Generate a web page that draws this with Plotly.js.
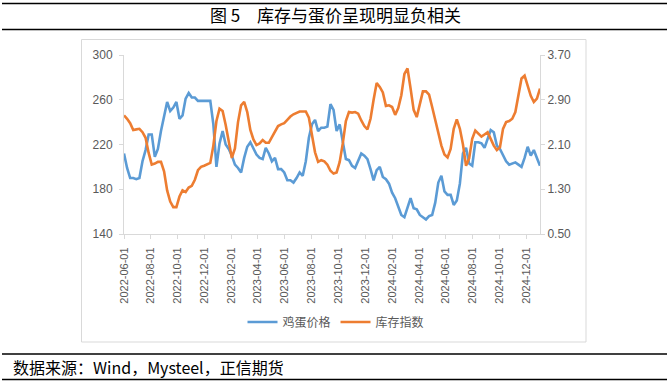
<!DOCTYPE html>
<html>
<head>
<meta charset="utf-8">
<script src="https://cdn.plot.ly/plotly-3.0.1.min.js"></script>
<style>
html,body{margin:0;padding:0;background:#fff;}
#chart{width:671px;height:384px;}
</style>
</head>
<body>
<div id="chart"></div>
<script>
// Weekly observation dates
const dates = [
"2022-06-01","2022-06-08","2022-06-15","2022-06-22","2022-06-29","2022-07-06","2022-07-13","2022-07-20","2022-07-27",
"2022-08-03","2022-08-10","2022-08-17","2022-08-24","2022-08-31","2022-09-07","2022-09-14","2022-09-21","2022-09-28",
"2022-10-05","2022-10-12","2022-10-19","2022-10-26","2022-11-02","2022-11-09","2022-11-16","2022-11-23","2022-11-30",
"2022-12-07","2022-12-14","2022-12-21","2022-12-28",
"2023-01-04","2023-01-11","2023-01-18","2023-01-25","2023-02-01","2023-02-08","2023-02-15","2023-02-22",
"2023-03-01","2023-03-08","2023-03-15","2023-03-22","2023-03-29","2023-04-05","2023-04-12","2023-04-19","2023-04-26",
"2023-05-03","2023-05-10","2023-05-17","2023-05-24","2023-05-31","2023-06-07","2023-06-14","2023-06-21","2023-06-28",
"2023-07-05","2023-07-12","2023-07-19","2023-07-26","2023-08-02","2023-08-09","2023-08-16","2023-08-23","2023-08-30",
"2023-09-06","2023-09-13","2023-09-20","2023-09-27","2023-10-04","2023-10-11","2023-10-18","2023-10-25",
"2023-11-01","2023-11-08","2023-11-15","2023-11-22","2023-11-29","2023-12-06","2023-12-13","2023-12-20","2023-12-27",
"2024-01-03","2024-01-10","2024-01-17","2024-01-24","2024-01-31","2024-02-07","2024-02-14","2024-02-21","2024-02-28",
"2024-03-06","2024-03-13","2024-03-20","2024-03-27","2024-04-03","2024-04-10","2024-04-17","2024-04-24",
"2024-05-01","2024-05-08","2024-05-15","2024-05-22","2024-05-29","2024-06-05","2024-06-12","2024-06-19","2024-06-26",
"2024-07-03","2024-07-10","2024-07-17","2024-07-24","2024-07-31","2024-08-07","2024-08-14","2024-08-21","2024-08-28",
"2024-09-04","2024-09-11","2024-09-18","2024-09-25","2024-10-02","2024-10-09","2024-10-16","2024-10-23","2024-10-30",
"2024-11-06","2024-11-13","2024-11-20","2024-11-27","2024-12-04","2024-12-11","2024-12-18","2024-12-25","2025-01-01"
];

// 鸡蛋价格 (left axis)
const eggPrice = [
212,199,190,190,189,190,205,215,229,229,209,216,232,245,258,250,253,258,243,246,
261,266,262,262,259,259,259,259,259,238,200,221,232,220,216,210,202,199,195,208,
218,222,217,211,208,207,217,212,205,208,198,198,195,188,188,186,190,195,192,205,
226,238,242,232,235,235,236,256,251,232,238,222,207,206,201,199,205,212,210,207,
198,188,197,200,191,189,185,177,172,164,157,155,163,172,163,162,157,155,153,156,
157,168,186,192,178,175,175,166,170,185,212,217,203,201,222,222,221,217,226,233,
231,219,216,210,205,202,203,204,202,200,208,218,210,215,208,201
];

// 库存指数 (right axis)
const stockIndex = [
2.62,2.56,2.48,2.36,2.37,2.38,2.32,2.22,1.95,1.74,1.76,1.79,1.79,1.62,1.28,1.08,0.98,0.98,1.17,1.28,
1.25,1.33,1.36,1.47,1.64,1.70,1.72,1.74,1.77,2.08,2.52,2.74,2.70,2.45,2.12,1.86,2.03,2.50,2.80,2.86,
2.68,2.36,2.19,2.09,2.12,2.18,2.13,2.13,2.23,2.32,2.43,2.46,2.48,2.54,2.60,2.64,2.67,2.69,2.69,2.69,
2.58,2.28,1.96,1.79,1.82,1.80,1.74,1.63,1.58,1.60,1.79,2.12,2.52,2.68,2.67,2.68,2.65,2.53,2.43,2.37,
2.56,2.90,3.20,3.13,3.03,2.79,2.80,2.77,2.63,2.75,2.98,3.36,3.46,3.10,2.72,2.59,2.83,3.05,3.05,2.99,
2.77,2.52,2.30,2.08,1.92,1.87,2.02,2.38,2.55,2.38,2.10,1.72,1.85,2.20,2.35,2.30,2.24,2.28,2.32,2.20,
2.08,2.00,2.05,2.38,2.50,2.52,2.56,2.68,3.00,3.28,3.33,3.15,2.97,2.86,2.92,3.10
];

const seriesNames = ["鸡蛋价格", "库存指数"];
const titleText = "图 5　库存与蛋价呈现明显负相关";
const sourceText = "数据来源：Wind，Mysteel，正信期货";
const leftTicks = [140, 180, 220, 260, 300];
const rightTicks = [0.5, 1.3, 2.1, 2.9, 3.7];

const W = 671, H = 384;
const L = 124, R = 131, T = 55, B = 150;
const pw = W - L - R, ph = H - T - B;
const px = x => (x - L) / pw;
const py = y => (H - B - y) / ph;

const cjk = '"Noto Sans CJK SC", "Liberation Sans", sans-serif';
const num = '"Liberation Sans", Arial, sans-serif';
const gray = '#595959';

const traces = [
  {x: dates, y: eggPrice, name: seriesNames[0], type: 'scatter', mode: 'lines',
   line: {color: '#5B9BD5', width: 2.6}, yaxis: 'y'},
  {x: dates, y: stockIndex, name: seriesNames[1], type: 'scatter', mode: 'lines',
   line: {color: '#ED7D31', width: 2.6}, yaxis: 'y2'}
];

const axisCommon = {
  showgrid: false, zeroline: false, showline: true, linecolor: '#d9d9d9', linewidth: 1,
  ticks: 'outside', ticklen: 4, tickcolor: '#d9d9d9', tickwidth: 1,
  tickfont: {family: num, size: 12, color: gray}, fixedrange: true
};

const layout = {
  width: W, height: H,
  margin: {l: L, r: R, t: T, b: B, autoexpand: false},
  paper_bgcolor: '#ffffff', plot_bgcolor: '#ffffff',
  showlegend: true,
  title: {text: titleText, x: 0.5, xref: 'container', xanchor: 'center',
          y: 1 - 16 / H, yref: 'container', yanchor: 'middle',
          font: {family: cjk, size: 17, color: '#000000', weight: 'normal'}},
  xaxis: Object.assign({}, axisCommon, {
    type: 'date', range: ['2022-06-01', '2025-01-01'],
    tick0: '2022-06-01', dtick: 'M2', tickformat: '%Y-%m-%d', tickangle: -90,
    ticklabelstandoff: 4,
    tickfont: {family: num, size: 11, color: gray}
  }),
  yaxis: Object.assign({}, axisCommon, {
    range: [140, 300], tickmode: 'array', tickvals: leftTicks,
    ticktext: leftTicks.map(v => String(v)), ticklabelstandoff: 4
  }),
  yaxis2: Object.assign({}, axisCommon, {
    range: [0.5, 3.7], overlaying: 'y', side: 'right', tickmode: 'array',
    tickvals: rightTicks, ticktext: rightTicks.map(v => v.toFixed(2))
  }),
  legend: {orientation: 'h', x: px(336), xanchor: 'center', y: py(322), yanchor: 'middle',
           bgcolor: 'rgba(0,0,0,0)', itemwidth: 30, tracegroupgap: 0,
           font: {family: cjk, size: 12, color: gray}},
  shapes: [
    {type: 'line', xref: 'paper', yref: 'paper', x0: px(2), x1: px(667), y0: py(3.5), y1: py(3.5),
     line: {color: '#000', width: 1.6}},
    {type: 'line', xref: 'paper', yref: 'paper', x0: px(2), x1: px(667), y0: py(29.5), y1: py(29.5),
     line: {color: '#000', width: 1.6}},
    {type: 'rect', xref: 'paper', yref: 'paper', x0: px(81.5), x1: px(586), y0: py(342), y1: py(39.5),
     line: {color: '#d9d9d9', width: 1}, fillcolor: 'rgba(0,0,0,0)', layer: 'below'},
    {type: 'line', xref: 'paper', yref: 'paper', x0: px(2), x1: px(667), y0: py(354), y1: py(354),
     line: {color: '#000', width: 1.6}},
    {type: 'line', xref: 'paper', yref: 'paper', x0: px(2), x1: px(667), y0: py(379.5), y1: py(379.5),
     line: {color: '#000', width: 1.6}}
  ],
  annotations: [
    {text: sourceText, xref: 'paper', yref: 'paper', x: px(11), xanchor: 'left',
     y: py(367), yanchor: 'middle', showarrow: false,
     font: {family: cjk, size: 16, color: '#000000'}}
  ]
};

Plotly.newPlot('chart', traces, layout, {staticPlot: true, displayModeBar: false});
</script>
</body>
</html>
